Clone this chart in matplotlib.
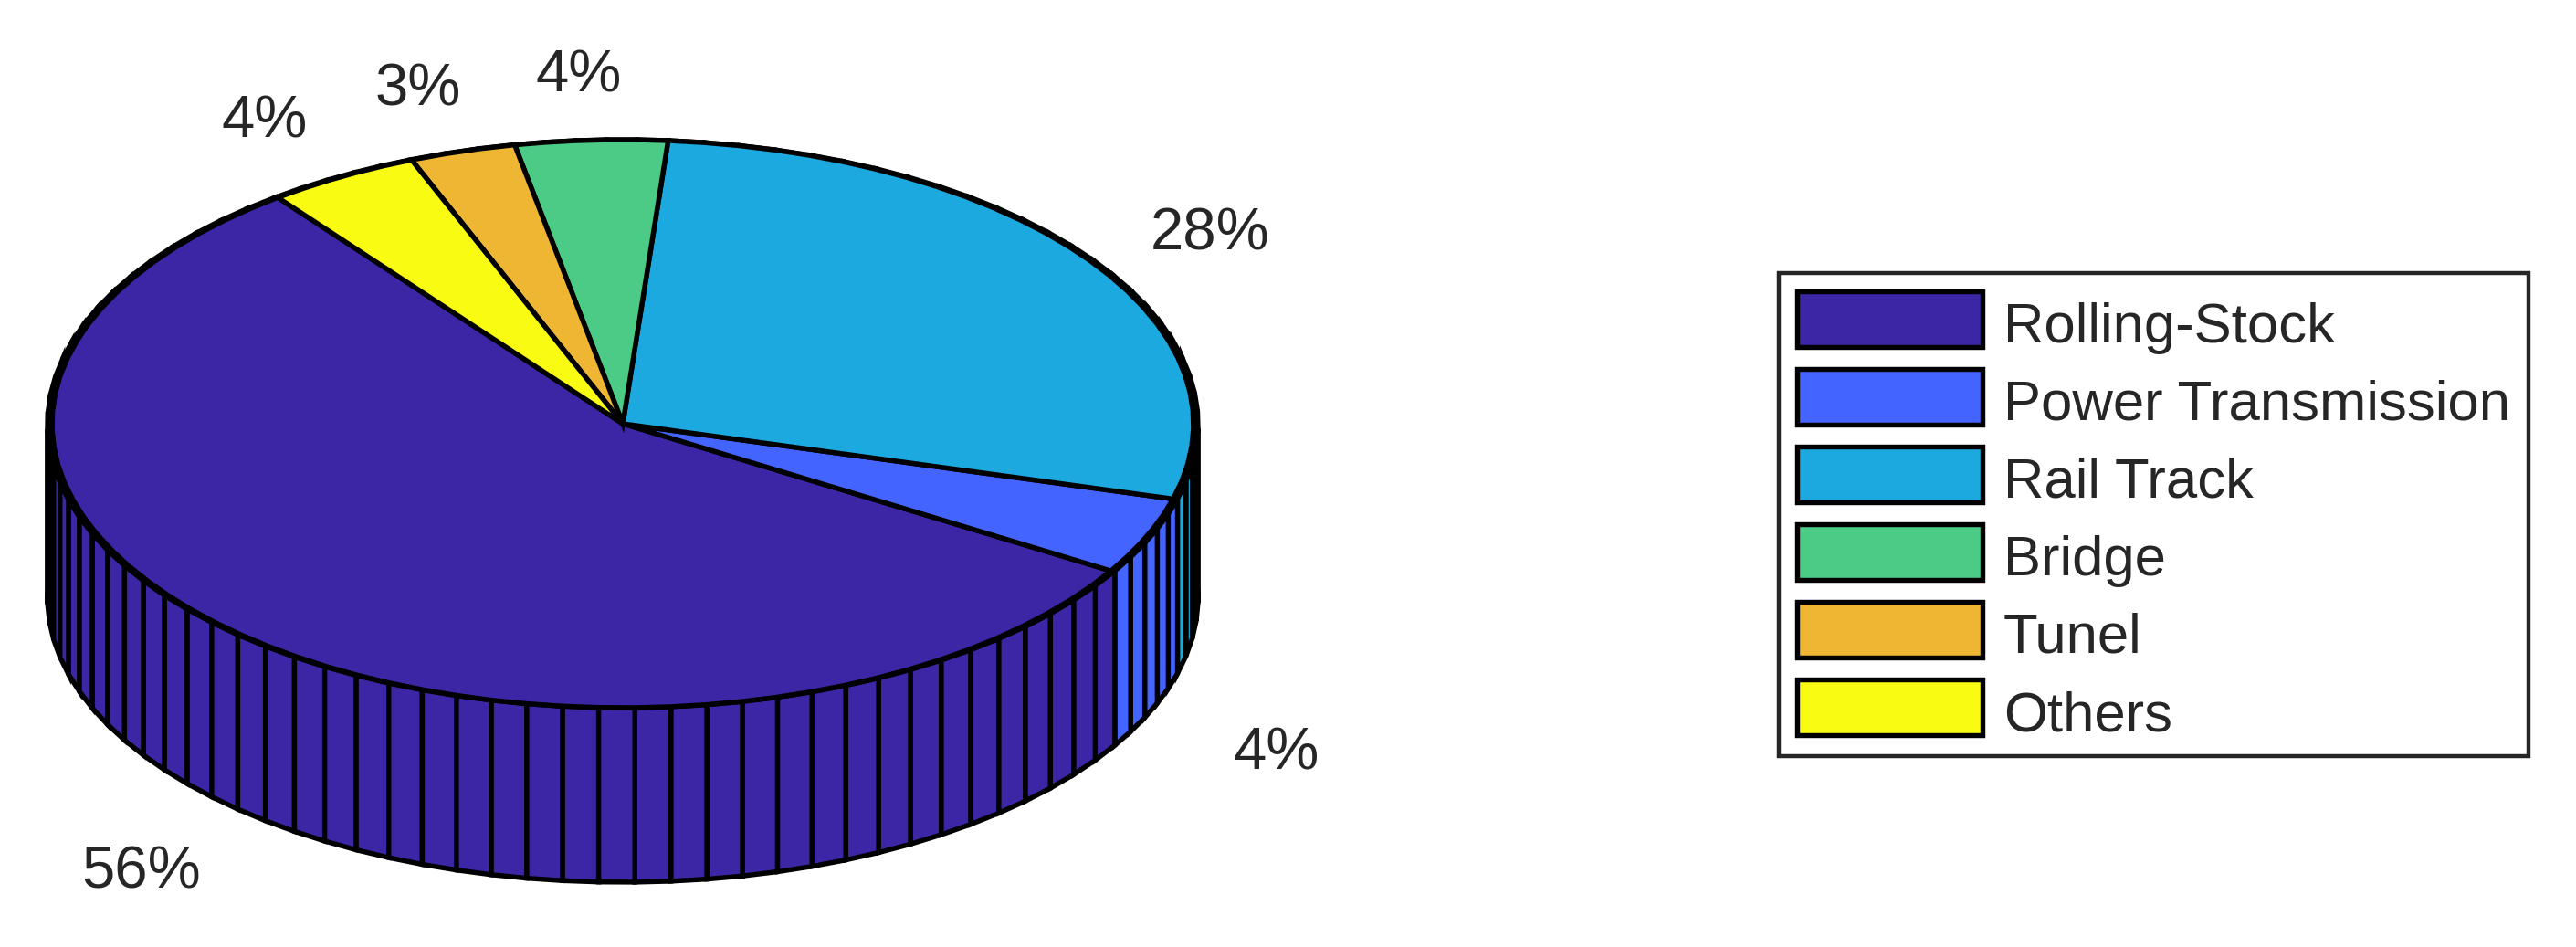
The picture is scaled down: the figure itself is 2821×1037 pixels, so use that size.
"""MATLAB-style pie3 look: 3D pie drawn as flat polygons on one big axes."""
import numpy as np
import matplotlib
matplotlib.use("Agg")
import matplotlib.pyplot as plt
from matplotlib.patches import Patch, Polygon

plt.rcParams["font.family"] = ["Liberation Sans", "DejaVu Sans"]

categories = ["Rolling-Stock", "Power Transmission", "Rail Track", "Bridge", "Tunel", "Others"]
shares = [56.0, 4.4, 28.0, 4.3, 3.0, 4.3]
colors = ["#3C26A5", "#4464FF", "#1BA9E0", "#4CCB87", "#EFB633", "#F9FB12"]

W, H = 2821, 1037
CX, CY = 682, 464      # hub, px
RX, RY = 625, 311      # top ellipse, px
WALL_RX = 630
DROP = 191             # wall height, px
START = 127.2          # deg, slices run counter-clockwise
LW = 3.9
TXT = "#262626"
# label nudge from the radial spot, px right / px down
nudge = [(-9, 14), (4, 18), (9, 14), (-5, 5), (-7, 5), (-11, 5)]


def ellipse_pts(a, rx=RX):
    a = np.radians(a)
    return np.column_stack([rx / RX * np.cos(a), np.sin(a)])


fig = plt.figure(figsize=(W / 100, H / 100), dpi=100)
ax = fig.add_axes([0, 0, 1, 1])
# one data unit = one radius in each direction
ax.set_xlim(-CX / RX, (W - CX) / RX)
ax.set_ylim(-(H - CY) / RY, CY / RY)
ax.axis("off")

drop = DROP / RY
sweeps = np.array(shares) / sum(shares) * 360
edges = START + np.concatenate([[0], np.cumsum(sweeps)])

walls, tops = [], []
for i, sw in enumerate(sweeps):
    n = int(np.ceil(shares[i] / sum(shares) * 100 - 1e-9))  # pie3 facet count
    angs = np.linspace(edges[i], edges[i + 1], n + 1)
    tops.append((ellipse_pts(angs), colors[i]))
    for a0, a1 in zip(angs[:-1], angs[1:]):
        p = ellipse_pts(np.array([a0, a1]), WALL_RX)
        low = p[::-1] - [0, drop]
        walls.append((np.sin(np.radians((a0 + a1) / 2)), np.vstack([p, low]), colors[i]))

# back to front
for _, pts, c in sorted(walls, key=lambda w: -w[0]):
    ax.add_patch(Polygon(pts, closed=True, fc=c, ec="black", lw=LW, joinstyle="miter"))
for pts, c in tops:
    ax.add_patch(Polygon(np.vstack([[0, 0], pts]), closed=True, fc=c, ec="black", lw=LW, joinstyle="miter"))

# percent labels, just outside the rim; the ones in front sit at wall bottom level
for i, sw in enumerate(sweeps):
    mid = np.radians(edges[i] + sw / 2)
    x, y = 1.24 * np.cos(mid), 1.24 * np.sin(mid)
    if np.sin(mid) < 0:
        y -= drop
    x += nudge[i][0] / RX
    y -= nudge[i][1] / RY
    ax.text(x, y, f"{round(shares[i])}%", fontsize=47, color=TXT, ha="center", va="center")

handles = [Patch(facecolor=c, edgecolor="black", linewidth=LW) for c in colors]
leg = ax.legend(handles, categories, loc="upper left", bbox_to_anchor=(1948 / W, 1 - 299 / H),
                bbox_transform=fig.transFigure, borderaxespad=0, fontsize=44.4, labelcolor=TXT,
                fancybox=False, framealpha=1, edgecolor=TXT, handlelength=3.3, handleheight=1.146,
                labelspacing=0.335, handletextpad=0.37, borderpad=0.32)
leg.get_frame().set_linewidth(3.2)
for t in leg.get_texts():
    t.set_y(-4.5)

fig.savefig("out.png", dpi=100)
